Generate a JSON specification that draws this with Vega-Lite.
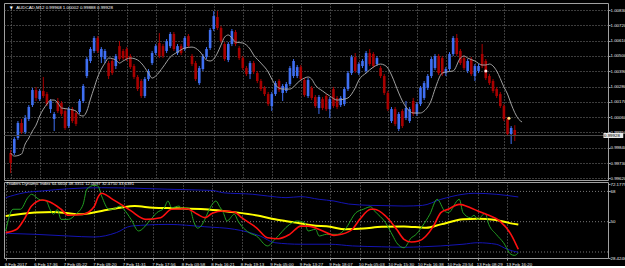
{
  "$schema": "https://vega.github.io/schema/vega-lite/v6.json",
  "background": "#000000",
  "padding": {"left": 1, "top": 2, "right": 0, "bottom": 0},
  "spacing": 2,
  "bounds": "flush",
  "config": {
    "view": {"stroke": "#a0a0a0", "strokeWidth": 1},
    "font": "Liberation Sans",
    "axis": {"labelFont": "Liberation Sans", "labelFontSize": 4.4, "labelColor": "#ececec", "tickColor": "#a0a0a0", "tickSize": 2, "domain": false, "gridColor": "#7a7a7a", "gridDash": [1, 2], "gridWidth": 1, "title": null, "labelOverlap": false, "labelFlush": false, "labelBound": false, "minExtent": 0},
    "text": {"font": "Liberation Sans", "color": "#ececec"}
  },
  "datasets": {
    "bars": [
      {"i":0,"o":0.99802,"h":0.99824,"l":0.99658,"c":0.99730},
      {"i":1,"o":0.99802,"h":0.99917,"l":0.99788,"c":0.99903},
      {"i":2,"o":0.99910,"h":1.00032,"l":0.99896,"c":1.00018},
      {"i":3,"o":1.00018,"h":1.00047,"l":0.99939,"c":0.99953},
      {"i":4,"o":0.99953,"h":1.00075,"l":0.99939,"c":1.00054},
      {"i":5,"o":1.00047,"h":1.00147,"l":1.00032,"c":1.00133},
      {"i":6,"o":1.00147,"h":1.00270,"l":1.00133,"c":1.00255},
      {"i":7,"o":1.00255,"h":1.00277,"l":1.00176,"c":1.00198},
      {"i":8,"o":1.00190,"h":1.00262,"l":1.00176,"c":1.00248},
      {"i":9,"o":1.00248,"h":1.00349,"l":1.00198,"c":1.00212},
      {"i":10,"o":1.00226,"h":1.00241,"l":1.00140,"c":1.00154},
      {"i":11,"o":1.00118,"h":1.00190,"l":1.00090,"c":1.00176},
      {"i":12,"o":1.00047,"h":1.00097,"l":0.99960,"c":1.00083},
      {"i":13,"o":1.00176,"h":1.00198,"l":1.00090,"c":1.00104},
      {"i":14,"o":1.00162,"h":1.00176,"l":1.00068,"c":1.00083},
      {"i":15,"o":1.00104,"h":1.00118,"l":0.99968,"c":0.99982},
      {"i":16,"o":0.99996,"h":1.00133,"l":0.99982,"c":1.00118},
      {"i":17,"o":1.00118,"h":1.00133,"l":1.00018,"c":1.00032},
      {"i":18,"o":1.00090,"h":1.00104,"l":0.99996,"c":1.00011},
      {"i":19,"o":1.00097,"h":1.00190,"l":1.00083,"c":1.00176},
      {"i":20,"o":1.00176,"h":1.00298,"l":1.00162,"c":1.00284},
      {"i":21,"o":1.00356,"h":1.00492,"l":1.00341,"c":1.00478},
      {"i":22,"o":1.00464,"h":1.00564,"l":1.00449,"c":1.00550},
      {"i":23,"o":1.00536,"h":1.00643,"l":1.00521,"c":1.00629},
      {"i":24,"o":1.00629,"h":1.00643,"l":1.00521,"c":1.00536},
      {"i":25,"o":1.00492,"h":1.00564,"l":1.00449,"c":1.00550},
      {"i":26,"o":1.00478,"h":1.00550,"l":1.00449,"c":1.00536},
      {"i":27,"o":1.00449,"h":1.00464,"l":1.00334,"c":1.00356},
      {"i":28,"o":1.00464,"h":1.00478,"l":1.00363,"c":1.00377},
      {"i":29,"o":1.00428,"h":1.00514,"l":1.00406,"c":1.00500},
      {"i":30,"o":1.00571,"h":1.00607,"l":1.00464,"c":1.00478},
      {"i":31,"o":1.00536,"h":1.00550,"l":1.00471,"c":1.00485},
      {"i":32,"o":1.00550,"h":1.00564,"l":1.00464,"c":1.00478},
      {"i":33,"o":1.00500,"h":1.00514,"l":1.00406,"c":1.00420},
      {"i":34,"o":1.00428,"h":1.00442,"l":1.00334,"c":1.00349},
      {"i":35,"o":1.00349,"h":1.00363,"l":1.00248,"c":1.00262},
      {"i":36,"o":1.00320,"h":1.00334,"l":1.00198,"c":1.00212},
      {"i":37,"o":1.00212,"h":1.00349,"l":1.00198,"c":1.00334},
      {"i":38,"o":1.00334,"h":1.00406,"l":1.00320,"c":1.00392},
      {"i":39,"o":1.00449,"h":1.00536,"l":1.00435,"c":1.00521},
      {"i":40,"o":1.00521,"h":1.00586,"l":1.00507,"c":1.00571},
      {"i":41,"o":1.00593,"h":1.00665,"l":1.00485,"c":1.00500},
      {"i":42,"o":1.00571,"h":1.00586,"l":1.00485,"c":1.00500},
      {"i":43,"o":1.00536,"h":1.00622,"l":1.00521,"c":1.00607},
      {"i":44,"o":1.00571,"h":1.00672,"l":1.00557,"c":1.00658},
      {"i":45,"o":1.00658,"h":1.00672,"l":1.00536,"c":1.00550},
      {"i":46,"o":1.00521,"h":1.00586,"l":1.00507,"c":1.00571},
      {"i":47,"o":1.00571,"h":1.00586,"l":1.00507,"c":1.00521},
      {"i":48,"o":1.00550,"h":1.00643,"l":1.00536,"c":1.00629},
      {"i":49,"o":1.00643,"h":1.00658,"l":1.00557,"c":1.00571},
      {"i":50,"o":1.00500,"h":1.00514,"l":1.00428,"c":1.00442},
      {"i":51,"o":1.00449,"h":1.00464,"l":1.00320,"c":1.00334},
      {"i":52,"o":1.00305,"h":1.00428,"l":1.00291,"c":1.00413},
      {"i":53,"o":1.00406,"h":1.00514,"l":1.00392,"c":1.00500},
      {"i":54,"o":1.00492,"h":1.00564,"l":1.00478,"c":1.00550},
      {"i":55,"o":1.00557,"h":1.00701,"l":1.00543,"c":1.00687},
      {"i":56,"o":1.00694,"h":1.00823,"l":1.00679,"c":1.00787},
      {"i":57,"o":1.00780,"h":1.00823,"l":1.00687,"c":1.00701},
      {"i":58,"o":1.00701,"h":1.00715,"l":1.00593,"c":1.00607},
      {"i":59,"o":1.00586,"h":1.00600,"l":1.00464,"c":1.00478},
      {"i":60,"o":1.00471,"h":1.00600,"l":1.00456,"c":1.00586},
      {"i":61,"o":1.00586,"h":1.00694,"l":1.00571,"c":1.00679},
      {"i":62,"o":1.00672,"h":1.00687,"l":1.00571,"c":1.00586},
      {"i":63,"o":1.00557,"h":1.00571,"l":1.00471,"c":1.00485},
      {"i":64,"o":1.00485,"h":1.00500,"l":1.00399,"c":1.00413},
      {"i":65,"o":1.00413,"h":1.00428,"l":1.00356,"c":1.00370},
      {"i":66,"o":1.00370,"h":1.00464,"l":1.00334,"c":1.00449},
      {"i":67,"o":1.00449,"h":1.00464,"l":1.00370,"c":1.00385},
      {"i":68,"o":1.00377,"h":1.00392,"l":1.00305,"c":1.00320},
      {"i":69,"o":1.00320,"h":1.00334,"l":1.00248,"c":1.00262},
      {"i":70,"o":1.00270,"h":1.00284,"l":1.00212,"c":1.00226},
      {"i":71,"o":1.00226,"h":1.00241,"l":1.00140,"c":1.00154},
      {"i":72,"o":1.00140,"h":1.00241,"l":1.00104,"c":1.00226},
      {"i":73,"o":1.00226,"h":1.00320,"l":1.00212,"c":1.00305},
      {"i":74,"o":1.00320,"h":1.00334,"l":1.00241,"c":1.00255},
      {"i":75,"o":1.00234,"h":1.00298,"l":1.00176,"c":1.00284},
      {"i":76,"o":1.00248,"h":1.00313,"l":1.00234,"c":1.00298},
      {"i":77,"o":1.00298,"h":1.00428,"l":1.00284,"c":1.00413},
      {"i":78,"o":1.00356,"h":1.00478,"l":1.00341,"c":1.00464},
      {"i":79,"o":1.00356,"h":1.00435,"l":1.00341,"c":1.00420},
      {"i":80,"o":1.00420,"h":1.00435,"l":1.00320,"c":1.00334},
      {"i":81,"o":1.00327,"h":1.00341,"l":1.00205,"c":1.00219},
      {"i":82,"o":1.00212,"h":1.00341,"l":1.00198,"c":1.00327},
      {"i":83,"o":1.00270,"h":1.00284,"l":1.00183,"c":1.00198},
      {"i":84,"o":1.00205,"h":1.00219,"l":1.00126,"c":1.00140},
      {"i":85,"o":1.00126,"h":1.00219,"l":1.00083,"c":1.00205},
      {"i":86,"o":1.00190,"h":1.00205,"l":1.00111,"c":1.00126},
      {"i":87,"o":1.00212,"h":1.00226,"l":1.00104,"c":1.00118},
      {"i":88,"o":1.00118,"h":1.00205,"l":1.00054,"c":1.00190},
      {"i":89,"o":1.00262,"h":1.00277,"l":1.00126,"c":1.00140},
      {"i":90,"o":1.00198,"h":1.00212,"l":1.00118,"c":1.00133},
      {"i":91,"o":1.00147,"h":1.00212,"l":1.00133,"c":1.00198},
      {"i":92,"o":1.00154,"h":1.00277,"l":1.00140,"c":1.00262},
      {"i":93,"o":1.00262,"h":1.00392,"l":1.00248,"c":1.00377},
      {"i":94,"o":1.00377,"h":1.00507,"l":1.00363,"c":1.00492},
      {"i":95,"o":1.00492,"h":1.00521,"l":1.00377,"c":1.00392},
      {"i":96,"o":1.00377,"h":1.00456,"l":1.00363,"c":1.00442},
      {"i":97,"o":1.00428,"h":1.00478,"l":1.00413,"c":1.00464},
      {"i":98,"o":1.00392,"h":1.00536,"l":1.00377,"c":1.00521},
      {"i":99,"o":1.00521,"h":1.00550,"l":1.00428,"c":1.00442},
      {"i":100,"o":1.00514,"h":1.00528,"l":1.00413,"c":1.00428},
      {"i":101,"o":1.00442,"h":1.00500,"l":1.00428,"c":1.00485},
      {"i":102,"o":1.00413,"h":1.00428,"l":1.00341,"c":1.00356},
      {"i":103,"o":1.00356,"h":1.00370,"l":1.00219,"c":1.00234},
      {"i":104,"o":1.00234,"h":1.00248,"l":1.00104,"c":1.00118},
      {"i":105,"o":1.00032,"h":1.00133,"l":1.00018,"c":1.00118},
      {"i":106,"o":1.00118,"h":1.00133,"l":0.99996,"c":1.00011},
      {"i":107,"o":0.99975,"h":1.00097,"l":0.99960,"c":1.00083},
      {"i":108,"o":1.00104,"h":1.00118,"l":0.99982,"c":0.99996},
      {"i":109,"o":1.00054,"h":1.00176,"l":1.00039,"c":1.00126},
      {"i":110,"o":1.00032,"h":1.00133,"l":1.00018,"c":1.00118},
      {"i":111,"o":1.00176,"h":1.00198,"l":1.00068,"c":1.00083},
      {"i":112,"o":1.00083,"h":1.00169,"l":1.00068,"c":1.00154},
      {"i":113,"o":1.00154,"h":1.00284,"l":1.00140,"c":1.00270},
      {"i":114,"o":1.00198,"h":1.00320,"l":1.00183,"c":1.00305},
      {"i":115,"o":1.00270,"h":1.00370,"l":1.00255,"c":1.00356},
      {"i":116,"o":1.00356,"h":1.00492,"l":1.00341,"c":1.00478},
      {"i":117,"o":1.00413,"h":1.00514,"l":1.00399,"c":1.00500},
      {"i":118,"o":1.00500,"h":1.00514,"l":1.00363,"c":1.00377},
      {"i":119,"o":1.00485,"h":1.00500,"l":1.00356,"c":1.00370},
      {"i":120,"o":1.00377,"h":1.00420,"l":1.00356,"c":1.00406},
      {"i":121,"o":1.00406,"h":1.00528,"l":1.00392,"c":1.00514},
      {"i":122,"o":1.00514,"h":1.00643,"l":1.00500,"c":1.00629},
      {"i":123,"o":1.00629,"h":1.00658,"l":1.00500,"c":1.00514},
      {"i":124,"o":1.00536,"h":1.00550,"l":1.00435,"c":1.00449},
      {"i":125,"o":1.00485,"h":1.00500,"l":1.00399,"c":1.00413},
      {"i":126,"o":1.00392,"h":1.00478,"l":1.00377,"c":1.00464},
      {"i":127,"o":1.00478,"h":1.00492,"l":1.00356,"c":1.00370},
      {"i":128,"o":1.00356,"h":1.00442,"l":1.00320,"c":1.00428},
      {"i":129,"o":1.00392,"h":1.00442,"l":1.00377,"c":1.00428},
      {"i":130,"o":1.00514,"h":1.00586,"l":1.00413,"c":1.00428},
      {"i":131,"o":1.00464,"h":1.00478,"l":1.00327,"c":1.00341},
      {"i":132,"o":1.00356,"h":1.00370,"l":1.00291,"c":1.00305},
      {"i":133,"o":1.00320,"h":1.00334,"l":1.00234,"c":1.00248},
      {"i":134,"o":1.00262,"h":1.00277,"l":1.00198,"c":1.00212},
      {"i":135,"o":1.00226,"h":1.00241,"l":1.00126,"c":1.00140},
      {"i":136,"o":1.00140,"h":1.00154,"l":1.00032,"c":1.00047},
      {"i":137,"o":1.00047,"h":1.00061,"l":0.99924,"c":0.99939},
      {"i":138,"o":0.99939,"h":0.99996,"l":0.99867,"c":0.99982},
      {"i":139,"o":0.99968,"h":1.00002,"l":0.99888,"c":0.99928}
    ],
    "ma": [
      {"i":0,"p":0.99802},{"i":1,"p":0.99780},{"i":3,"p":0.99795},{"i":4,"p":0.99867},{"i":5,"p":0.99910},{"i":6,"p":0.99960},{"i":7,"p":1.00003},{"i":8,"p":1.00068},{"i":10,"p":1.00154},{"i":11,"p":1.00183},{"i":12,"p":1.00183},{"i":13,"p":1.00162},{"i":14,"p":1.00126},{"i":16,"p":1.00118},{"i":18,"p":1.00104},{"i":19,"p":1.00075},{"i":20,"p":1.00068},{"i":21,"p":1.00104},{"i":22,"p":1.00190},{"i":23,"p":1.00270},{"i":24,"p":1.00349},{"i":25,"p":1.00406},{"i":26,"p":1.00449},{"i":27,"p":1.00485},{"i":29,"p":1.00471},{"i":30,"p":1.00449},{"i":31,"p":1.00464},{"i":33,"p":1.00485},{"i":35,"p":1.00471},{"i":36,"p":1.00449},{"i":38,"p":1.00377},{"i":39,"p":1.00341},{"i":40,"p":1.00356},{"i":42,"p":1.00420},{"i":44,"p":1.00492},{"i":46,"p":1.00528},{"i":48,"p":1.00557},{"i":50,"p":1.00564},{"i":52,"p":1.00536},{"i":54,"p":1.00471},{"i":55,"p":1.00464},{"i":56,"p":1.00478},{"i":57,"p":1.00521},{"i":58,"p":1.00579},{"i":59,"p":1.00636},{"i":60,"p":1.00651},{"i":61,"p":1.00629},{"i":62,"p":1.00600},{"i":64,"p":1.00593},{"i":66,"p":1.00550},{"i":67,"p":1.00507},{"i":69,"p":1.00449},{"i":71,"p":1.00385},{"i":72,"p":1.00334},{"i":73,"p":1.00291},{"i":75,"p":1.00262},{"i":77,"p":1.00262},{"i":78,"p":1.00277},{"i":79,"p":1.00305},{"i":81,"p":1.00341},{"i":82,"p":1.00349},{"i":83,"p":1.00334},{"i":84,"p":1.00291},{"i":86,"p":1.00248},{"i":88,"p":1.00212},{"i":90,"p":1.00183},{"i":92,"p":1.00190},{"i":93,"p":1.00198},{"i":95,"p":1.00270},{"i":96,"p":1.00327},{"i":98,"p":1.00377},{"i":100,"p":1.00420},{"i":102,"p":1.00442},{"i":103,"p":1.00435},{"i":104,"p":1.00413},{"i":105,"p":1.00363},{"i":107,"p":1.00234},{"i":108,"p":1.00176},{"i":109,"p":1.00133},{"i":111,"p":1.00090},{"i":113,"p":1.00090},{"i":114,"p":1.00104},{"i":116,"p":1.00183},{"i":117,"p":1.00262},{"i":119,"p":1.00377},{"i":120,"p":1.00385},{"i":122,"p":1.00392},{"i":124,"p":1.00485},{"i":125,"p":1.00500},{"i":126,"p":1.00485},{"i":128,"p":1.00464},{"i":130,"p":1.00435},{"i":131,"p":1.00435},{"i":132,"p":1.00442},{"i":133,"p":1.00428},{"i":134,"p":1.00392},{"i":136,"p":1.00277},{"i":137,"p":1.00226},{"i":138,"p":1.00154},{"i":140,"p":1.00047},{"i":141,"p":1.00025}
    ],
    "cur": [{"p": 0.99928, "t": "0.99928"}],
    "marks": [{"i": 131, "p": 1.00392, "k": "w"}, {"i": 137.4, "p": 1.00052, "k": "y"}],
    "levels": [{"lv": 68}, {"lv": 50}, {"lv": 32}],
    "upper": [
      {"i":0,"v":64.3},{"i":5,"v":67.2},{"i":10,"v":68.3},{"i":17,"v":69.6},{"i":26,"v":70.2},{"i":35,"v":69.9},{"i":44,"v":69.3},{"i":53,"v":68.8},{"i":56,"v":68.6},{"i":59,"v":67.2},{"i":67,"v":66.3},{"i":71,"v":65.3},{"i":76,"v":64.3},{"i":80,"v":64.9},{"i":85,"v":63.3},{"i":89,"v":62.3},{"i":93,"v":60.5},{"i":99,"v":59.7},{"i":104,"v":59.5},{"i":108,"v":59.3},{"i":113,"v":59.7},{"i":118,"v":63.3},{"i":124,"v":66.3},{"i":127,"v":66.9},{"i":133,"v":66.3},{"i":139,"v":64.7}
    ],
    "lower": [
      {"i":0,"v":43.1},{"i":8,"v":42.5},{"i":17,"v":41.5},{"i":24,"v":40.9},{"i":30,"v":43.5},{"i":34,"v":47.4},{"i":44,"v":48.4},{"i":54,"v":47.0},{"i":62,"v":45.5},{"i":69,"v":41.5},{"i":73,"v":37.5},{"i":80,"v":36.6},{"i":88,"v":36.6},{"i":94,"v":35.6},{"i":102,"v":35.1},{"i":108,"v":34.8},{"i":113,"v":35.1},{"i":118,"v":35.6},{"i":124,"v":36.6},{"i":128,"v":37.5},{"i":133,"v":36.6},{"i":136,"v":33.6},{"i":139,"v":31.8}
    ],
    "yellow": [
      {"i":0,"v":53.4},{"i":8,"v":55.4},{"i":13,"v":55.8},{"i":17,"v":55.0},{"i":20,"v":54.4},{"i":26,"v":56.4},{"i":31,"v":58.3},{"i":35,"v":59.3},{"i":40,"v":58.3},{"i":46,"v":58.0},{"i":54,"v":57.4},{"i":59,"v":56.4},{"i":63,"v":55.4},{"i":69,"v":53.4},{"i":73,"v":51.4},{"i":79,"v":49.4},{"i":83,"v":47.9},{"i":88,"v":47.0},{"i":92,"v":45.5},{"i":97,"v":45.9},{"i":102,"v":47.0},{"i":108,"v":47.2},{"i":114,"v":46.4},{"i":118,"v":48.4},{"i":124,"v":51.4},{"i":128,"v":51.8},{"i":133,"v":51.0},{"i":137,"v":49.0},{"i":139,"v":48.3}
    ],
    "green": [
      {"i":0,"v":44.5},{"i":2,"v":57.4},{"i":4,"v":57.4},{"i":6,"v":64.3},{"i":7,"v":66.3},{"i":9,"v":63.3},{"i":11,"v":62.3},{"i":12,"v":57.4},{"i":13,"v":54.4},{"i":14,"v":57.4},{"i":15,"v":51.4},{"i":17,"v":51.4},{"i":19,"v":54.4},{"i":21,"v":60.3},{"i":22,"v":69.3},{"i":24,"v":71.6},{"i":25,"v":71.2},{"i":26,"v":65.3},{"i":28,"v":57.4},{"i":29,"v":57.4},{"i":31,"v":59.3},{"i":32,"v":57.4},{"i":34,"v":51.4},{"i":36,"v":44.5},{"i":39,"v":50.4},{"i":41,"v":55.4},{"i":43,"v":58.3},{"i":44,"v":62.3},{"i":45,"v":58.3},{"i":47,"v":59.3},{"i":48,"v":57.4},{"i":49,"v":58.3},{"i":50,"v":57.4},{"i":51,"v":50.0},{"i":52,"v":46.2},{"i":53,"v":47.5},{"i":54,"v":51.4},{"i":55,"v":56.4},{"i":56,"v":60.3},{"i":57,"v":62.3},{"i":58,"v":59.0},{"i":59,"v":55.4},{"i":60,"v":50.4},{"i":62,"v":54.4},{"i":63,"v":50.4},{"i":66,"v":43.5},{"i":68,"v":41.5},{"i":71,"v":35.6},{"i":73,"v":39.5},{"i":77,"v":48.4},{"i":79,"v":50.4},{"i":81,"v":49.4},{"i":82,"v":44.5},{"i":84,"v":45.5},{"i":85,"v":41.5},{"i":87,"v":42.5},{"i":90,"v":42.5},{"i":92,"v":45.5},{"i":95,"v":55.4},{"i":97,"v":57.4},{"i":99,"v":58.9},{"i":100,"v":56.4},{"i":103,"v":49.4},{"i":105,"v":41.5},{"i":106,"v":37.5},{"i":108,"v":34.5},{"i":110,"v":40.5},{"i":111,"v":41.9},{"i":113,"v":47.4},{"i":115,"v":54.4},{"i":117,"v":63.3},{"i":119,"v":56.4},{"i":120,"v":55.4},{"i":123,"v":63.3},{"i":124,"v":55.4},{"i":126,"v":52.4},{"i":127,"v":53.8},{"i":128,"v":51.4},{"i":130,"v":55.0},{"i":131,"v":48.4},{"i":133,"v":42.5},{"i":135,"v":37.5},{"i":137,"v":30.6},{"i":138,"v":30.0},{"i":139,"v":31.5}
    ],
    "red": [
      {"i":0,"v":43.5},{"i":3,"v":45.5},{"i":5,"v":51.4},{"i":7,"v":59.3},{"i":10,"v":62.9},{"i":12,"v":61.7},{"i":15,"v":57.4},{"i":17,"v":53.8},{"i":21,"v":54.4},{"i":24,"v":59.0},{"i":25,"v":64.5},{"i":26,"v":66.9},{"i":29,"v":63.3},{"i":32,"v":59.3},{"i":34,"v":56.4},{"i":38,"v":51.4},{"i":42,"v":52.4},{"i":45,"v":57.4},{"i":49,"v":57.7},{"i":52,"v":54.4},{"i":54,"v":52.4},{"i":56,"v":55.0},{"i":59,"v":56.4},{"i":62,"v":55.8},{"i":64,"v":52.4},{"i":68,"v":46.4},{"i":71,"v":40.5},{"i":74,"v":39.9},{"i":77,"v":42.5},{"i":80,"v":47.4},{"i":82,"v":47.4},{"i":86,"v":44.5},{"i":89,"v":41.9},{"i":91,"v":42.5},{"i":94,"v":45.5},{"i":96,"v":51.4},{"i":99,"v":57.4},{"i":100,"v":57.4},{"i":103,"v":53.4},{"i":106,"v":45.5},{"i":108,"v":39.5},{"i":110,"v":37.9},{"i":112,"v":38.5},{"i":116,"v":47.4},{"i":118,"v":55.4},{"i":120,"v":57.4},{"i":123,"v":60.3},{"i":126,"v":58.3},{"i":128,"v":56.4},{"i":131,"v":53.8},{"i":134,"v":50.4},{"i":137,"v":42.5},{"i":139,"v":33.6}
    ]
  },
  "vconcat": [
    {
      "width": 604,
      "height": 177,
      "layer": [
        {
          "data": {"name": "bars"},
          "mark": {"type": "rule", "strokeWidth": 1},
          "encoding": {
            "x": {"field": "i", "type": "quantitative", "scale": {"domain": [-0.461, 163.32], "nice": false, "zero": false},
                  "axis": {"orient": "bottom", "values": [0,8,16,24,32,40,48,56,64,72,80,88,96,104,112,120,128,136], "tickCount": 100, "labels": false, "ticks": false, "grid": true, "labelOverlap": false}},
            "y": {"field": "l", "type": "quantitative", "scale": {"domain": [0.99608, 1.00881], "nice": false, "zero": false},
                  "axis": {"orient": "right", "values": [1.0083,1.0072,1.0061,1.005,1.0039,1.0028,1.0017,1.0006,0.9995,0.9984,0.9973,0.9962], "tickCount": 100, "format": ".5f", "grid": true, "tickSize": 2, "labelPadding": 0, "labelBaseline": "middle", "labelAlign": "left", "labelOverlap": false, "labelBound": false, "labelFlush": false}},
            "y2": {"field": "h"},
            "color": {"condition": {"test": "datum.c >= datum.o", "value": "#3f6ff2"}, "value": "#a80000"}
          }
        },
        {
          "data": {"name": "bars"},
          "mark": {"type": "bar", "size": 2.6},
          "encoding": {
            "x": {"field": "i", "type": "quantitative"},
            "y": {"field": "o", "type": "quantitative"},
            "y2": {"field": "c"},
            "color": {"condition": {"test": "datum.c >= datum.o", "value": "#3f6ff2"}, "value": "#a80000"}
          }
        },
        {
          "data": {"name": "ma"},
          "mark": {"type": "line", "color": "#a0a0a0", "strokeWidth": 1, "interpolate": "monotone"},
          "encoding": {
            "x": {"field": "i", "type": "quantitative"},
            "y": {"field": "p", "type": "quantitative"}
          }
        },
        {
          "data": {"name": "cur"},
          "mark": {"type": "rule", "color": "#4a4a4a", "strokeWidth": 1},
          "encoding": {"y": {"field": "p", "type": "quantitative"}}
        },
        {
          "data": {"name": "marks"},
          "mark": {"type": "point", "filled": true, "size": 9, "opacity": 1},
          "encoding": {
            "x": {"field": "i", "type": "quantitative"},
            "y": {"field": "p", "type": "quantitative"},
            "color": {"field": "k", "type": "nominal", "scale": {"domain": ["w", "y"], "range": ["#ffe4e4", "#ffe680"]}, "legend": null}
          }
        },
        {
          "data": {"values": [{}]},
          "mark": {"type": "text", "fontSize": 4, "align": "center", "baseline": "middle", "color": "#ffffff", "font": "DejaVu Sans"},
          "encoding": {"x": {"datum": 0.16}, "y": {"datum": 1.00845}, "text": {"value": "▼"}}
        },
        {
          "data": {"values": [{}]},
          "mark": {"type": "text", "fontSize": 4.4, "align": "left", "baseline": "middle", "color": "#ffffff"},
          "encoding": {"x": {"datum": 1.52}, "y": {"datum": 1.00845}, "text": {"value": "AUDCAD,M12  0.99968 1.00002 0.99888 0.99928"}}
        },
        {
          "data": {"name": "cur"},
          "mark": {"type": "rule", "color": "#e8e8e8", "strokeWidth": 5, "clip": false},
          "encoding": {"x": {"datum": 163.45}, "x2": {"datum": 168.9}, "y": {"field": "p", "type": "quantitative"}}
        },
        {
          "data": {"name": "cur"},
          "mark": {"type": "text", "fontSize": 4.4, "align": "left", "baseline": "middle", "color": "#000000", "clip": false},
          "encoding": {"x": {"datum": 163.6}, "y": {"field": "p", "type": "quantitative"}, "text": {"field": "t"}}
        }
      ]
    },
    {
      "width": 604,
      "height": 76,
      "layer": [
        {
          "data": {"name": "levels"},
          "mark": {"type": "rule", "color": "#787878", "strokeDash": [1, 2], "strokeWidth": 1},
          "encoding": {
            "y": {"field": "lv", "type": "quantitative", "scale": {"domain": [28.4246, 73.6], "nice": false, "zero": false},
                  "axis": {"orient": "right", "values": [72.1779, 68, 50, 28.4246], "tickCount": 100, "labelExpr": "'' + datum.value", "grid": false, "tickSize": 2, "labelPadding": 0, "labelBaseline": "middle", "labelAlign": "left", "labelOverlap": false, "labelBound": false, "labelFlush": false}}
          }
        },
        {
          "data": {"name": "upper"},
          "mark": {"type": "line", "color": "#1414b4", "strokeWidth": 1, "interpolate": "monotone"},
          "encoding": {
            "x": {"field": "i", "type": "quantitative", "scale": {"domain": [-0.461, 163.32], "nice": false, "zero": false},
                  "axis": {"orient": "bottom", "values": [0,8,16,24,32,40,48,56,64,72,80,88,96,104,112,120,128,136], "tickCount": 100,
                           "labelExpr": "['6 Feb 2017','6 Feb 17:36','7 Feb 05:22','7 Feb 09:20','7 Feb 11:31','7 Feb 17:56','8 Feb 03:58','8 Feb 16:21','8 Feb 19:13','9 Feb 05:00','9 Feb 13:27','9 Feb 18:07','10 Feb 05:03','10 Feb 15:30','10 Feb 16:38','10 Feb 23:54','13 Feb 08:29','13 Feb 16:20'][round(datum.value / 8)]",
                           "labelAlign": "left", "labelBaseline": "top", "labelPadding": 2, "labelOffset": -1.5, "tickSize": 2, "grid": true, "labelOverlap": false, "labelBound": false, "labelFlush": false}},
            "y": {"field": "v", "type": "quantitative"}
          }
        },
        {
          "data": {"name": "lower"},
          "mark": {"type": "line", "color": "#1414b4", "strokeWidth": 1, "interpolate": "monotone"},
          "encoding": {"x": {"field": "i", "type": "quantitative"}, "y": {"field": "v", "type": "quantitative"}}
        },
        {
          "data": {"name": "yellow"},
          "mark": {"type": "line", "color": "#ffff00", "strokeWidth": 2, "interpolate": "monotone"},
          "encoding": {"x": {"field": "i", "type": "quantitative"}, "y": {"field": "v", "type": "quantitative"}}
        },
        {
          "data": {"name": "green"},
          "mark": {"type": "line", "color": "#22a022", "strokeWidth": 1, "interpolate": "monotone"},
          "encoding": {"x": {"field": "i", "type": "quantitative"}, "y": {"field": "v", "type": "quantitative"}}
        },
        {
          "data": {"name": "red"},
          "mark": {"type": "line", "color": "#ff1010", "strokeWidth": 1.6, "interpolate": "monotone"},
          "encoding": {"x": {"field": "i", "type": "quantitative"}, "y": {"field": "v", "type": "quantitative"}}
        },
        {
          "data": {"values": [{}]},
          "mark": {"type": "text", "fontSize": 4.3, "align": "left", "baseline": "middle", "color": "#ffffff"},
          "encoding": {"x": {"datum": 0.15}, "y": {"datum": 72.5}, "text": {"value": "Traders Dynamic Index 64.6604 48.3351 12.0097 32.4750 33.6391"}}
        }
      ]
    }
  ]
}
